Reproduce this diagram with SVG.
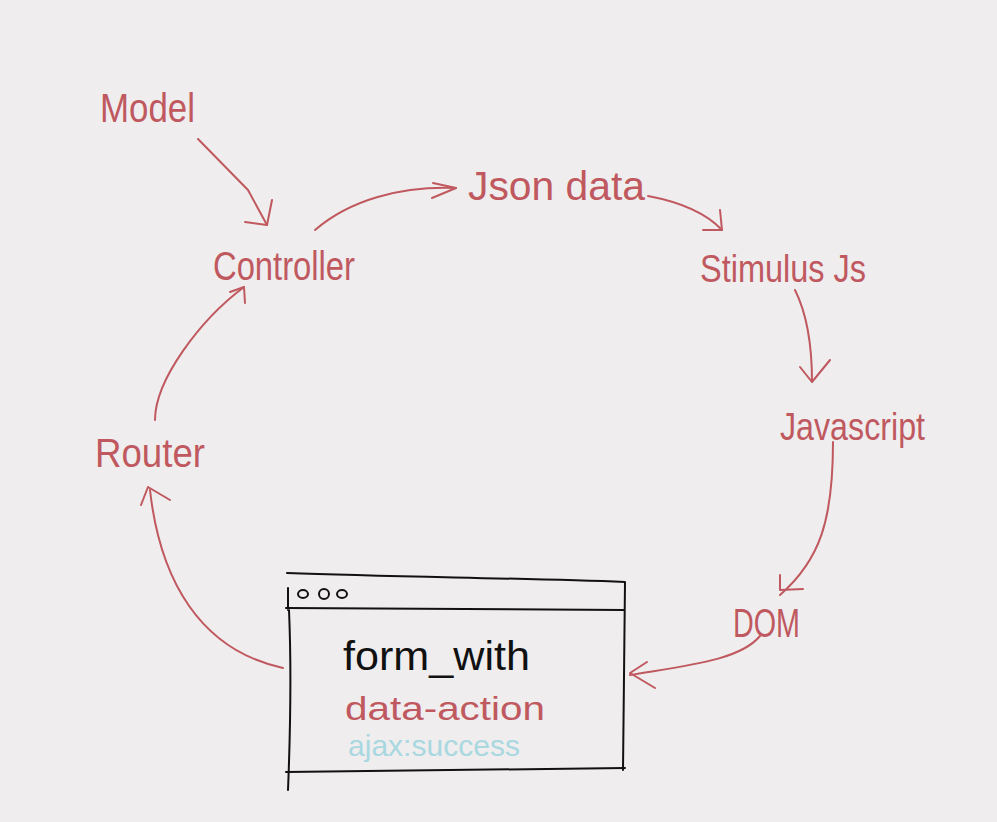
<svg xmlns="http://www.w3.org/2000/svg" width="997" height="822" viewBox="0 0 997 822">
<defs>
<style>
.t{font-family:"Liberation Sans","DejaVu Sans",sans-serif;fill:#c0595f;font-weight:300}
.c{fill:none;stroke:#c0595f;stroke-width:2;stroke-linecap:round;stroke-linejoin:round}
.b{fill:none;stroke:#111;stroke-width:2;stroke-linecap:round;stroke-linejoin:round}
</style>
</defs>
<rect width="997" height="822" fill="#efedee"/>
<g id="connectors">
<path class="c" d="M198,139 L248,190 L267,225"/><path class="c" d="M245,222 L267,225 L272,200"/>
<path class="c" d="M315,230 C350,200 400,186 456,188"/><path class="c" d="M433,183 L456,188 L432,198"/>
<path class="c" d="M648,196 C680,202 705,212 722,230"/><path class="c" d="M703,230 L722,230 L720,210"/>
<path class="c" d="M795,290 C805,310 812,340 812,382"/><path class="c" d="M800,367 L812,382 L830,360"/>
<path class="c" d="M833,442 C833,520 820,560 780,595"/><path class="c" d="M780,575 L780,590 L803,589"/>
<path class="c" d="M760,636 C740,660 690,665 630,675"/><path class="c" d="M647,662 L630,673 L655,688"/>
<path class="c" d="M283,668 C200,650 160,580 150,490"/><path class="c" d="M141,505 L148,487 L170,500"/>
<path class="c" d="M155,420 C155,380 200,320 244,287"/><path class="c" d="M230,292 L244,287 L245,303"/>
</g>
<g id="model"><text class="t" x="100" y="122" font-size="40" textLength="95" lengthAdjust="spacingAndGlyphs">Model</text></g>
<g id="controller"><text class="t" x="213" y="280" font-size="40" textLength="142" lengthAdjust="spacingAndGlyphs">Controller</text></g>
<g id="json"><text class="t" x="468" y="200" font-size="40" textLength="177" lengthAdjust="spacingAndGlyphs">Json data</text></g>
<g id="stimulus"><text class="t" x="700" y="282" font-size="38" textLength="166" lengthAdjust="spacingAndGlyphs">Stimulus Js</text></g>
<g id="javascript"><text class="t" x="780" y="440" font-size="38" textLength="145" lengthAdjust="spacingAndGlyphs">Javascript</text></g>
<g id="dom"><text class="t" x="733" y="637" font-size="40" textLength="67" lengthAdjust="spacingAndGlyphs">DOM</text></g>
<g id="router"><text class="t" x="95" y="467" font-size="40" textLength="110" lengthAdjust="spacingAndGlyphs">Router</text></g>
<g id="window">
<path class="b" d="M287,573 C400,577 520,578 625,582 L623,770"/>
<path class="b" d="M288,588 L288,610 M286,608 L624,610 M289,610 C292,680 290,740 288,790 M286,772 L625,768"/>
<ellipse class="b" cx="303" cy="594" rx="5" ry="4"/>
<ellipse class="b" cx="324" cy="594" rx="5" ry="5"/>
<ellipse class="b" cx="342" cy="594" rx="5" ry="4"/>
<text x="343" y="670" font-size="40" fill="#111" textLength="187" lengthAdjust="spacingAndGlyphs" style="font-family:'Liberation Sans',sans-serif;font-weight:300">form_with</text>
<text class="t" x="345" y="720" font-size="34" textLength="200" lengthAdjust="spacingAndGlyphs">data-action</text>
<text x="348" y="756" font-size="30" fill="#a9d8e1" textLength="172" lengthAdjust="spacingAndGlyphs" style="font-family:'Liberation Sans',sans-serif">ajax:success</text>
</g>
</svg>
